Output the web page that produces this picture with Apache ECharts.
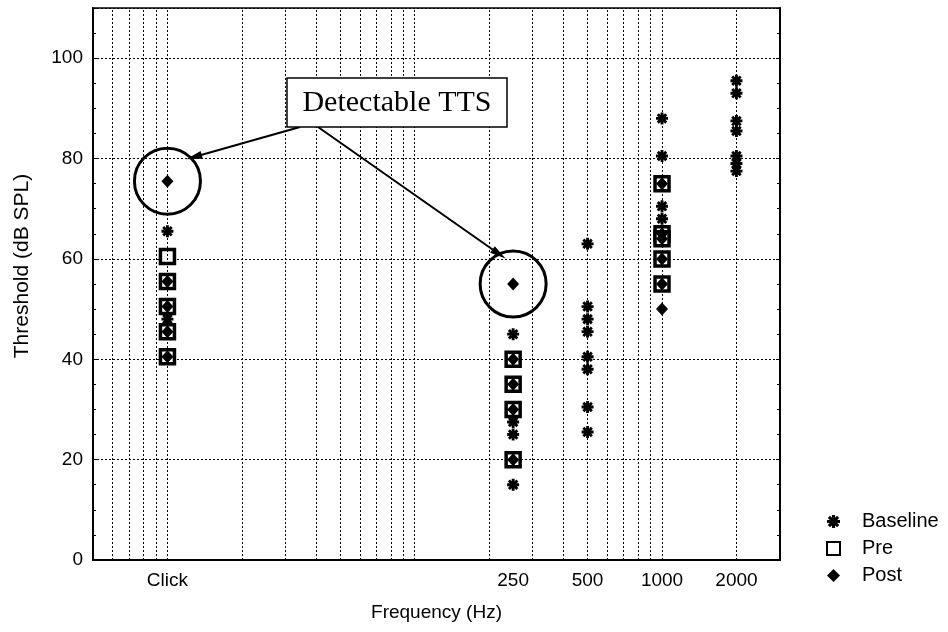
<!DOCTYPE html>
<html>
<head>
<meta charset="utf-8">
<title>Threshold vs Frequency</title>
<script src="https://cdn.jsdelivr.net/npm/echarts@6/dist/echarts.min.js"></script>
<style>
  html, body { margin: 0; padding: 0; background: #fff; }
  #chart { width: 948px; height: 632px; }
</style>
</head>
<body>
<div id="chart"></div>
<script>
// Test frequencies (the click stimulus is plotted at the 10 Hz position)
const freqs = [10, 250, 500, 1000, 2000];
const freqLabels = ['Click', '250', '500', '1000', '2000'];

// Thresholds in dB SPL, one list per frequency
const baselineDb = [
  [65.5, 48],
  [45, 27.5, 25, 15],
  [63, 50.5, 48, 45.5, 40.5, 38, 30.5, 25.5],
  [88, 80.5, 70.5, 68],
  [95.5, 93, 87.5, 85.5, 80.5, 79, 77.5]
];
const preDb = [
  [60.5, 55.5, 50.5, 45.5, 40.5],
  [40, 35, 30, 20],
  [],
  [75, 65, 64, 60, 55],
  []
];
const postDb = [
  [75.5, 55.5, 50.5, 45.5, 40.5],
  [55, 40, 35, 30, 20],
  [],
  [75, 65, 64, 60, 55, 50],
  []
];

// Log-frequency grid lines
const gridFreqs = [6, 7, 8, 9, 10, 20, 30, 40, 50, 60, 70, 80, 90,
                   100, 200, 300, 400, 500, 600, 700, 800, 900, 1000, 2000];

const FONT = '"Liberation Sans", Arial, sans-serif';
const FS = 19;

function toPoints(lists) {
  const pts = [];
  lists.forEach((vals, i) => vals.forEach(v => pts.push([freqs[i], v])));
  return pts;
}

// Asterisk glyph: four overlapping bars at 45 degree steps
const asteriskPath = (function () {
  const hl = 5, hw = 1.2;
  let d = '';
  for (let k = 0; k < 4; k++) {
    const a = k * Math.PI / 4, c = Math.cos(a), s = Math.sin(a);
    const corners = [[-hl, -hw], [hl, -hw], [hl, hw], [-hl, hw]].map(([x, y]) =>
      [(x * c - y * s).toFixed(3), (x * s + y * c).toFixed(3)]);
    d += 'M' + corners.map(p => p.join(' ')).join(' L') + ' Z ';
  }
  return 'path://' + d;
})();

const dotted = { type: [2, 2], color: '#000', width: 1 };

const chart = echarts.init(document.getElementById('chart'));

chart.setOption({
  animation: false,
  backgroundColor: '#fff',
  textStyle: { fontFamily: FONT, color: '#000' },
  grid: {
    left: 93, top: 8, width: 687, height: 552,
    show: true, borderColor: '#000', borderWidth: 1.5
  },
  xAxis: {
    type: 'log', logBase: 10, min: 5, max: 3000,
    axisLine: { show: true, lineStyle: { color: '#000', width: 2 } },
    axisTick: { show: false },
    axisLabel: { show: false },
    splitLine: { show: false },
    name: 'Frequency (Hz)',
    nameLocation: 'middle',
    nameGap: 43,
    nameTextStyle: { fontSize: FS, color: '#000', fontFamily: FONT }
  },
  yAxis: [{
    type: 'value', min: 0, max: 110, interval: 20,
    axisLine: { show: true, lineStyle: { color: '#000', width: 2 } },
    axisTick: { show: true, inside: true, length: 4, lineStyle: { color: '#000' } },
    minorTick: { show: true, splitNumber: 4, length: 3, lineStyle: { color: '#000' } },
    axisLabel: {
      fontSize: FS, color: '#000', margin: 10, fontFamily: FONT,
      formatter: v => (v % 20 === 0 ? String(v) : '')
    },
    splitLine: { show: true, lineStyle: dotted },
    name: 'Threshold (dB SPL)',
    nameLocation: 'middle',
    nameGap: 60,
    nameTextStyle: {
      fontSize: 21, color: '#000', fontFamily: FONT,
      padding: [0, 0, 0, 36]
    }
  }, {
    type: 'value', min: 0, max: 110, interval: 20, position: 'right',
    axisLine: { show: true, lineStyle: { color: '#000', width: 2 } },
    axisTick: { show: true, inside: true, length: 4, lineStyle: { color: '#000' } },
    minorTick: { show: true, splitNumber: 4, length: 3, lineStyle: { color: '#000' } },
    axisLabel: { show: false },
    splitLine: { show: false }
  }],
  legend: {
    data: ['Baseline', 'Pre', 'Post'],
    orient: 'vertical',
    left: 821, top: 506,
    itemWidth: 13, itemHeight: 13, itemGap: 6,
    textStyle: {
      fontSize: 20, lineHeight: 21, color: '#000', fontFamily: FONT,
      padding: [0, 0, 0, 17]
    }
  },
  graphic: [
    {
      type: 'rect', z: 100,
      shape: { x: 287, y: 78, width: 220, height: 49 },
      style: { fill: '#fff', stroke: '#000', lineWidth: 1.5 }
    },
    {
      type: 'text', z: 101, x: 397, y: 103,
      style: {
        text: 'Detectable TTS',
        font: '30px "Liberation Serif", "Times New Roman", serif',
        fill: '#000', align: 'center', verticalAlign: 'middle'
      }
    }
  ],
  series: [
    {
      // grid lines, tick labels and the TTS call-outs
      type: 'scatter', name: 'frame', data: [], silent: true, clip: false,
      markLine: {
        silent: true, animation: false,
        symbol: ['none', 'none'],
        label: { show: false },
        lineStyle: dotted,
        data: [
          ...gridFreqs.map(f => ({ xAxis: f })),
          ...freqs.map((f, i) => ({
            xAxis: f,
            lineStyle: { color: 'rgba(0,0,0,0)' },
            label: {
              show: true, position: 'start', distance: 11,
              formatter: freqLabels[i], fontSize: FS, color: '#000', fontFamily: FONT
            }
          })),
          [
            { x: 300, y: 127, symbol: 'none' },
            { x: 194, y: 157, symbol: 'triangle', symbolSize: [8, 16],
              lineStyle: { type: 'solid', width: 2, color: '#000' } }
          ],
          [
            { x: 318, y: 127, symbol: 'none' },
            { x: 499, y: 254, symbol: 'triangle', symbolSize: [8, 16],
              lineStyle: { type: 'solid', width: 2, color: '#000' } }
          ]
        ]
      },
      markPoint: {
        silent: true, animation: false,
        symbol: 'circle', symbolSize: 66,
        label: { show: false },
        itemStyle: { color: 'rgba(0,0,0,0)', borderColor: '#000', borderWidth: 3 },
        data: [
          { coord: [freqs[0], postDb[0][0]] },
          { coord: [freqs[1], postDb[1][0]] }
        ]
      }
    },
    {
      name: 'Baseline', type: 'scatter',
      symbol: asteriskPath, symbolSize: 12,
      itemStyle: { color: '#000', opacity: 1 },
      data: toPoints(baselineDb)
    },
    {
      name: 'Pre', type: 'scatter',
      symbol: 'rect', symbolSize: 14,
      itemStyle: { color: '#fff', borderColor: '#000', borderWidth: 3.5, opacity: 1 },
      data: toPoints(preDb)
    },
    {
      name: 'Post', type: 'scatter',
      symbol: 'diamond', symbolSize: [12, 13],
      itemStyle: { color: '#000', opacity: 1 },
      data: toPoints(postDb)
    }
  ]
});
</script>
</body>
</html>
